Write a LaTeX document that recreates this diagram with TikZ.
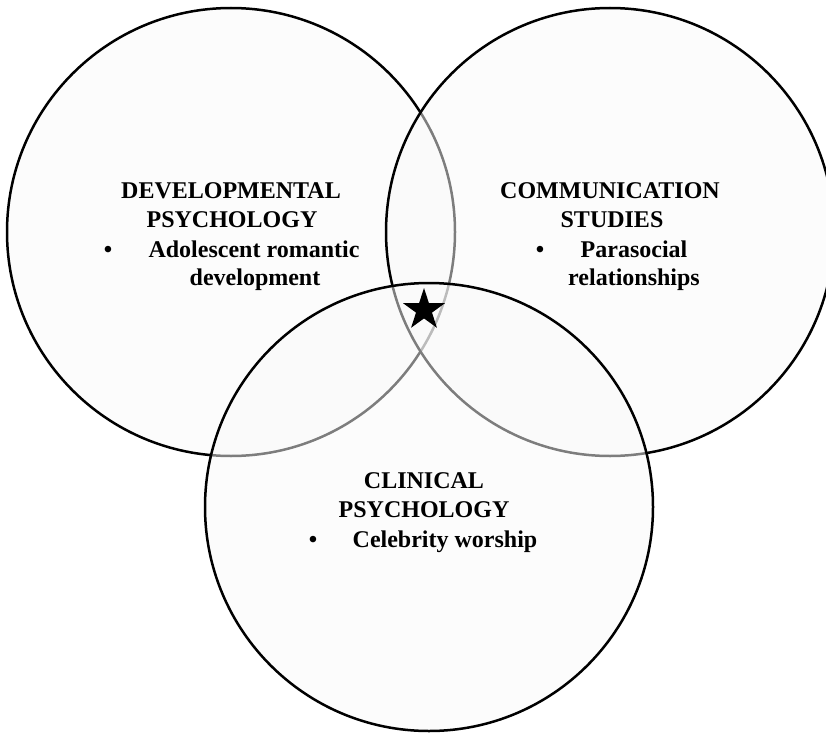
\documentclass[tikz,border=0pt]{standalone}
\usepackage{fontspec}
\setmainfont{Liberation Serif}
\usetikzlibrary{shapes.geometric}
\begin{document}
\begin{tikzpicture}[x=1pt,y=-1pt,
  venn/.style={circle, draw=black, line width=2.5pt, fill=black!2, fill opacity=0.5, draw opacity=1, inner sep=0pt, minimum size=448pt},
  lbl/.style={anchor=base, inner sep=0pt, font=\fontsize{24}{29}\selectfont\bfseries}]
\useasboundingbox[fill=white] (0,0) rectangle (826,733);
\node[venn] (dev) at (231,232) {};
\node[venn] (com) at (610,232) {};
\node[venn] (cli) at (429,507) {};
\node[star, star points=5, star point ratio=2.618, fill=black, inner sep=0pt, minimum size=44pt] (star) at (424,310) {};
% developmental
\node[lbl] (devA) at (231,198) {DEVELOPMENTAL};
\node[lbl] (devB) at (232,227) {PSYCHOLOGY};
\node[lbl] (devBul) at (108,257) {•};
\node[lbl] (devC) at (254,257) {Adolescent romantic};
\node[lbl] (devD) at (255,285) {development};
% communication
\node[lbl] (comA) at (610,198) {COMMUNICATION};
\node[lbl] (comB) at (612,227) {STUDIES};
\node[lbl] (comBul) at (540,257) {•};
\node[lbl] (comC) at (634,257) {Parasocial};
\node[lbl] (comD) at (634,285) {relationships};
% clinical
\node[lbl] (cliA) at (424,488) {CLINICAL};
\node[lbl] (cliB) at (424,517) {PSYCHOLOGY};
\node[lbl] (cliBul) at (313,547) {•};
\node[lbl] (cliC) at (445,547) {Celebrity worship};
\end{tikzpicture}
\end{document}
